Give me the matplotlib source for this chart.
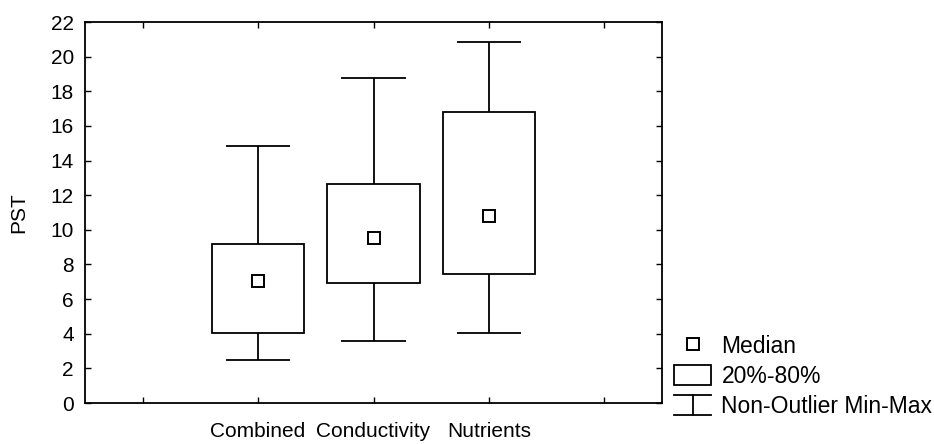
import matplotlib.pyplot as plt
from matplotlib.lines import Line2D
from matplotlib.patches import Patch
from matplotlib.legend_handler import HandlerBase

plt.rcParams['font.family'] = ['Liberation Sans', 'DejaVu Sans']

# box plot summary values
groups = ['Combined', 'Conductivity', 'Nutrients']
positions = [1, 2, 3]
whisker_min = [2.48, 3.58, 4.02]
box_low = [4.02, 6.95, 7.45]       # 20th percentile
medians = [7.04, 9.51, 10.80]
box_high = [9.20, 12.66, 16.80]    # 80th percentile
whisker_max = [14.86, 18.78, 20.82]

y_ticks = list(range(0, 23, 2))
x_ticks = [0, 1, 2, 3, 4]


class WhiskerHandler(HandlerBase):
    # draws the min-max symbol (two caps joined by a stem) in the legend
    def create_artists(self, legend, orig_handle, xdescent, ydescent,
                       width, height, fontsize, trans):
        x0, x1 = -xdescent, -xdescent + width
        y0, y1 = -ydescent, -ydescent + height
        xm = (x0 + x1) / 2
        kw = dict(color='black', lw=1.3, transform=trans)
        return [Line2D([x0, x1], [y0, y0], **kw),
                Line2D([x0, x1], [y1, y1], **kw),
                Line2D([xm, xm], [y0, y1], **kw)]


fig = plt.figure(figsize=(9.34, 4.44), dpi=100)
ax = fig.add_axes([85 / 934, 41 / 444, 577 / 934, 381 / 444])

box_w = 0.8
cap_w = 0.56
lw = 1.3

# whiskers
ax.vlines(positions, whisker_min, box_low, color='black', lw=lw)
ax.vlines(positions, box_high, whisker_max, color='black', lw=lw)
for p, lo, hi in zip(positions, whisker_min, whisker_max):
    ax.hlines([lo, hi], p - cap_w / 2, p + cap_w / 2, color='black', lw=lw)

# 20%-80% boxes
heights = [h - l for h, l in zip(box_high, box_low)]
ax.bar(positions, heights, bottom=box_low, width=box_w, facecolor='white',
       edgecolor='black', linewidth=lw, zorder=2)

# medians
ax.plot(positions, medians, 's', ms=8, mfc='white', mec='black', mew=1.4,
        zorder=3)

ax.set_xlim(-0.5, 4.5)
ax.set_ylim(0, 22)
ax.set_xticks(x_ticks)
ax.set_xticklabels(['' if t not in positions else groups[positions.index(t)]
                    for t in x_ticks])
ax.set_yticks(y_ticks)
ax.tick_params(axis='both', direction='in', length=4.5, width=1.0,
               labelsize=15, top=True, right=True)
ax.tick_params(axis='y', pad=8)
ax.tick_params(axis='x', pad=14)
for s in ax.spines.values():
    s.set_linewidth(1.3)

ax.set_ylabel('PST', fontsize=15)
ax.yaxis.set_label_coords((28 - 85) / 577, 0.5)

whisker_handle = Line2D([], [])
handles = [Line2D([], [], marker='s', ls='none', ms=8, mfc='white',
                  mec='black', mew=1.4),
           Patch(facecolor='white', edgecolor='black', linewidth=1.3),
           whisker_handle]
labels = ['Median', '20%-80%', 'Non-Outlier Min-Max']
fig.legend(handles, labels, loc='upper left',
           bbox_to_anchor=(674 / 934, 1 - 335 / 444), frameon=False,
           fontsize=16.5, handlelength=1.62, handleheight=1.0,
           handletextpad=0.45, labelspacing=0.3, borderpad=0,
           borderaxespad=0,
           handler_map={whisker_handle: WhiskerHandler()})

fig.savefig('out.png', dpi=100)
